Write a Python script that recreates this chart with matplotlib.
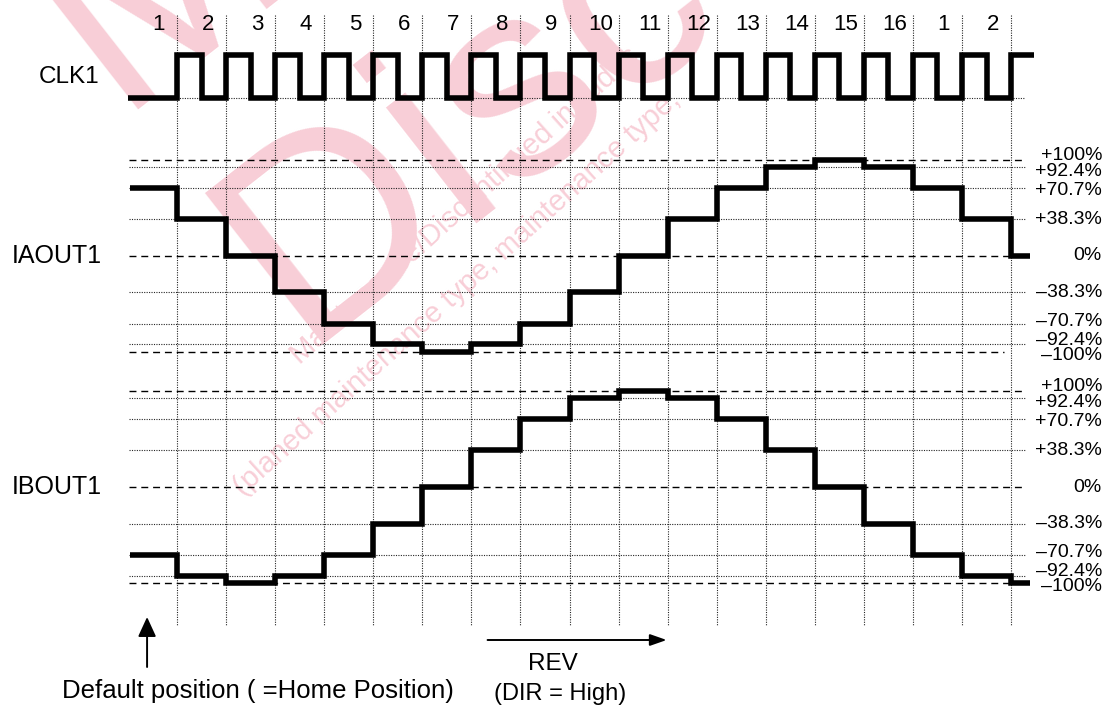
import numpy as np
import matplotlib
matplotlib.use("Agg")
import matplotlib.pyplot as plt
from matplotlib import transforms

plt.rcParams['font.family'] = ['Liberation Sans', 'DejaVu Sans']

# step numbers written above the clock
step_numbers = ['1', '2', '3', '4', '5', '6', '7', '8', '9', '10', '11', '12',
                '13', '14', '15', '16', '1', '2']

# current levels (percent) and their labels
level_values = [100, 92.4, 70.7, 38.3, 0, -38.3, -70.7, -92.4, -100]
level_labels = ['+100%', '+92.4%', '+70.7%', '+38.3%', '0%',
                '\u201338.3%', '\u201370.7%', '\u201392.4%', '\u2013100%']
dashed_levels = [100, 0, -100]

# output current per step (first value = default/home position)
iaout1 = [70.7, 38.3, 0, -38.3, -70.7, -92.4, -100, -92.4, -70.7, -38.3,
          0, 38.3, 70.7, 92.4, 100, 92.4, 70.7, 38.3, 0]
ibout1 = [-70.7, -92.4, -100, -92.4, -70.7, -38.3, 0, 38.3, 70.7, 92.4,
          100, 92.4, 70.7, 38.3, 0, -38.3, -70.7, -92.4, -100]

# clock level per half period (starts low, rises on every step boundary)
clk1 = [0] + [1, 0] * 17 + [1]

W, H = 1107, 711
fig = plt.figure(figsize=(W / 100, H / 100), dpi=100)

X0, X1 = -1.0, 17.6          # time in steps
LEFT_PX, RIGHT_PX = 127.94, 1040.5
SIG_LW = 4.0


def add_panel(top_px, bottom_px, ylim):
    ax = fig.add_axes([LEFT_PX / W, 1 - bottom_px / H,
                       (RIGHT_PX - LEFT_PX) / W, (bottom_px - top_px) / H])
    ax.set_xlim(X0, X1)
    ax.set_ylim(*ylim)
    ax.axis('off')
    ax.patch.set_alpha(0)
    return ax


def px(x, y):
    return x / W, 1 - y / H


dot = (0, (1, 1.2))
dash = (0, (5, 3.5))

# watermark (pink, behind everything)
pink = '#f8ced7'
wm = dict(rotation_mode='anchor', ha='left', va='baseline', color=pink,
          zorder=-1)
fig.text(*px(115, 110), 'Ma', rotation=38, fontsize=200, **wm)
fig.text(*px(300, 345), 'Disc', rotation=38, fontsize=200, **wm)
fig.text(*px(300, 365), 'Maintenance/Discontinued includes', rotation=42,
         fontsize=21, **wm)
fig.text(*px(243, 497), '(planed maintenance type, maintenance type,',
         rotation=42, fontsize=21, **wm)

# background: vertical grid, texts, arrows (y in pixels)
bg = add_panel(0, H, (H, 0))
n_steps = len(step_numbers)
bounds = np.arange(n_steps)
bg.vlines(bounds, 15, 625, colors='0.15', linestyles=[dot], linewidth=0.8)
for k, s in enumerate(step_numbers):
    bg.text(bounds[k] - 0.37, 25, s, ha='center', va='center', fontsize=16)

bg.annotate('', xy=(-0.61, 617), xytext=(-0.61, 667),
            arrowprops=dict(arrowstyle='-|>,head_length=1.2,head_width=0.55',
                            lw=1.4, color='black', shrinkA=0, shrinkB=0,
                            mutation_scale=10))
bg.annotate('', xy=(9.98, 640), xytext=(6.33, 640),
            arrowprops=dict(arrowstyle='-|>,head_length=1.0,head_width=0.35',
                            lw=1.4, color='black', shrinkA=0, shrinkB=0,
                            mutation_scale=10))
fig.text(*px(258, 691), 'Default position ( =Home Position)',
         ha='center', va='center', fontsize=18.5)
fig.text(*px(553, 664), 'REV', ha='center', va='center', fontsize=17.5)
fig.text(*px(560, 694), '(DIR = High)', ha='center', va='center',
         fontsize=17)

# clock panel: low=0 at 98 px, high=1 at 55 px
clk_ax = add_panel(30, 120, (-22 / 43, 68 / 43))
clk_t = [-1.02] + list(np.arange(0, 17.01, 0.5)) + [17.47]
clk_ax.hlines(0, 0, 17.29, colors='0.15', linestyles=[dot], linewidth=0.8)
clk_ax.step(clk_t, clk1 + [clk1[-1]], where='post', color='black', lw=SIG_LW,
            solid_joinstyle='miter', solid_capstyle='butt')
fig.text(*px(39, 77), 'CLK1', ha='left', va='center', fontsize=17.5)

# current panels
scale = 0.958  # px per percent
label_nudge = {100: 5, 92.4: -4, 70.7: -2, -70.7: 2, -92.4: 4, -100: -4}


def current_panel(zero_px, values, name, neg_end):
    ax = add_panel(zero_px - 120 * scale, zero_px + 120 * scale, (-120, 120))
    for v in level_values:
        is_dash = v in dashed_levels
        end = neg_end if v == -100 else 17.29
        ax.hlines(v, -0.98, end, colors='black' if is_dash else '0.15',
                  linestyles=[dash if is_dash else dot],
                  linewidth=1.0 if is_dash else 0.8)
    t = [-0.96] + list(bounds) + [17.39]
    ax.step(t, values + [values[-1]], where='post', color='black', lw=SIG_LW,
            solid_joinstyle='miter', solid_capstyle='butt')
    tr = transforms.blended_transform_factory(fig.transFigure, ax.transData)
    for v, lab in zip(level_values, level_labels):
        ax.annotate(lab, xy=(1102 / W, v), xycoords=tr,
                    xytext=(0, label_nudge.get(v, 0)), textcoords='offset pixels',
                    ha='right', va='center', fontsize=14)
    fig.text(*px(12, zero_px), name, ha='left', va='center', fontsize=18)
    return ax


current_panel(255.8, iaout1, 'IAOUT1', 16.86)
current_panel(487.0, ibout1, 'IBOUT1', 17.0)

fig.savefig('out.png', dpi=100)
